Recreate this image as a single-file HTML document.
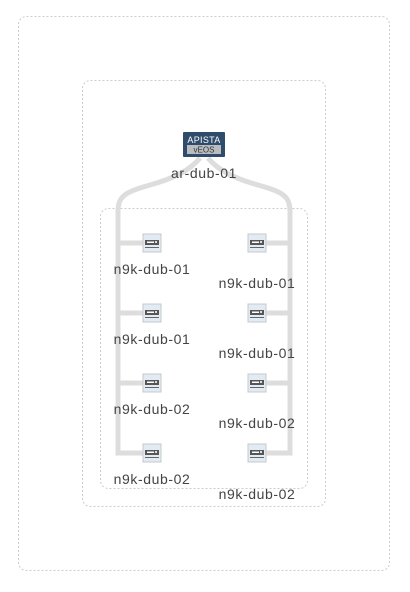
<!DOCTYPE html>
<html><head><style>
body{margin:0;background:#fff;width:410px;height:587px;overflow:hidden;font-family:"Liberation Sans",sans-serif}
</style></head><body>
<svg width="410" height="587" xmlns="http://www.w3.org/2000/svg" font-family="Liberation Sans, sans-serif">
<rect x="18.5" y="16.5" width="371" height="554" rx="8" fill="none" stroke="#ccc" stroke-dasharray="2,2"/>
<rect x="82.5" y="80.5" width="243" height="426" rx="8" fill="none" stroke="#ccc" stroke-dasharray="2,2"/>
<rect x="100.5" y="208.5" width="207" height="280" rx="8" fill="none" stroke="#ccc" stroke-dasharray="2,2"/>
<g fill="none" stroke="#ddd" stroke-width="5">
<path d="M200 158 C190 170 175 178 150 185 C125 192 118 196 118 212 L118 453 L145 453"/>
<path d="M208 158 C218 170 233 178 258 185 C283 192 290 196 290 212 L290 453 L262 453"/>
<path d="M118 243 H145 M118 313 H145 M118 383 H145"/>
<path d="M290 243 H262 M290 313 H262 M290 383 H262"/>
</g>
<rect x="183" y="132" width="42" height="25" rx="1" fill="#2f4d6b"/>
<text x="204" y="143" font-size="9" fill="#fff" text-anchor="middle" letter-spacing="0.3">APISTA</text>
<rect x="187" y="145" width="34" height="9" fill="#b9bdc1"/>
<text x="204" y="152.5" font-size="8" fill="#333" text-anchor="middle">vEOS</text>
<g font-size="14" fill="#444" text-anchor="middle" letter-spacing="0.6">
<text x="204" y="178">ar-dub-01</text>
<text x="152" y="274">n9k-dub-01</text>
<text x="152" y="344">n9k-dub-01</text>
<text x="152" y="414">n9k-dub-02</text>
<text x="152" y="484">n9k-dub-02</text>
<text x="257" y="288">n9k-dub-01</text>
<text x="257" y="358">n9k-dub-01</text>
<text x="257" y="428">n9k-dub-02</text>
<text x="257" y="499">n9k-dub-02</text>
</g>
<defs><g id="sw">
<rect x="-9" y="-9" width="18" height="18" fill="#e2ebf3" stroke="#c4c8cc"/>
<rect x="-7" y="-3" width="14" height="5" fill="#555"/>
<rect x="-5" y="-1.5" width="7" height="1.5" fill="#fff"/>
<rect x="3" y="-2" width="2" height="2" fill="#ddd"/>
<rect x="-7" y="4" width="14" height="1" fill="#666"/>
</g></defs>
<use href="#sw" x="152" y="243"/><use href="#sw" x="152" y="313"/><use href="#sw" x="152" y="383"/><use href="#sw" x="152" y="453"/>
<use href="#sw" x="257" y="243"/><use href="#sw" x="257" y="313"/><use href="#sw" x="257" y="383"/><use href="#sw" x="257" y="453"/>
</svg>
</body></html>
